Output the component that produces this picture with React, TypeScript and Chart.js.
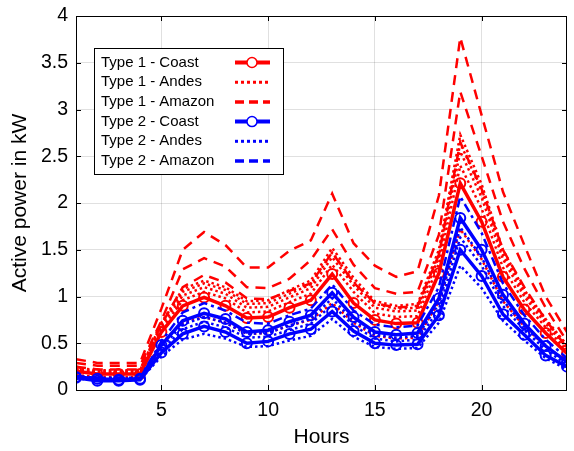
import React, { useEffect, useRef } from "react";
import { Chart, registerables } from "chart.js";

Chart.register(...registerables);

// ---------- data ----------
const hours = [1, 2, 3, 4, 5, 6, 7, 8, 9, 10, 11, 12, 13, 14, 15, 16, 17, 18, 19, 20, 21, 22, 23, 24];

const xTickValues = [5, 10, 15, 20];
const yTickValues = [0, 0.5, 1, 1.5, 2, 2.5, 3, 3.5, 4];

// Type 1 (red)
const t1Coast = [0.20, 0.17, 0.17, 0.17, 0.62, 0.90, 0.99, 0.90, 0.77, 0.78, 0.88, 0.96, 1.24, 0.93, 0.75, 0.71, 0.72, 1.25, 2.21, 1.80, 1.21, 0.86, 0.61, 0.39];
const t1AndesA = [0.24, 0.21, 0.21, 0.21, 0.72, 1.08, 1.17, 1.10, 0.95, 0.96, 1.07, 1.17, 1.52, 1.20, 0.95, 0.90, 0.92, 1.50, 2.73, 2.20, 1.50, 1.07, 0.76, 0.48];
const t1AndesE = [0.23, 0.20, 0.20, 0.20, 0.70, 1.05, 1.14, 1.07, 0.92, 0.93, 1.03, 1.13, 1.47, 1.16, 0.92, 0.87, 0.88, 1.46, 2.64, 2.13, 1.45, 1.04, 0.74, 0.47];
const t1AndesB = [0.22, 0.19, 0.19, 0.19, 0.68, 1.01, 1.10, 1.03, 0.88, 0.89, 0.99, 1.09, 1.42, 1.12, 0.88, 0.84, 0.85, 1.42, 2.55, 2.06, 1.40, 1.00, 0.71, 0.45];
const t1AndesC = [0.21, 0.18, 0.18, 0.18, 0.65, 0.96, 1.05, 0.98, 0.83, 0.84, 0.94, 1.03, 1.34, 1.05, 0.82, 0.78, 0.79, 1.35, 2.40, 1.94, 1.31, 0.94, 0.67, 0.42];
const t1AndesD = [0.16, 0.14, 0.14, 0.14, 0.50, 0.72, 0.78, 0.72, 0.60, 0.61, 0.69, 0.75, 0.93, 0.72, 0.58, 0.55, 0.56, 0.95, 1.72, 1.40, 0.95, 0.68, 0.47, 0.30];
const t1AmazonA = [0.33, 0.29, 0.29, 0.29, 0.87, 1.50, 1.69, 1.55, 1.31, 1.31, 1.49, 1.60, 2.10, 1.57, 1.33, 1.21, 1.27, 2.08, 3.77, 2.94, 2.12, 1.55, 1.00, 0.62];
const t1AmazonB = [0.29, 0.26, 0.26, 0.26, 0.74, 1.29, 1.41, 1.32, 1.10, 1.09, 1.19, 1.39, 1.72, 1.34, 1.09, 1.03, 1.05, 1.66, 3.19, 2.50, 1.80, 1.30, 0.88, 0.52];
const t1AmazonC = [0.25, 0.22, 0.22, 0.22, 0.70, 1.10, 1.23, 1.15, 0.98, 0.97, 1.06, 1.14, 1.47, 1.15, 0.93, 0.88, 0.90, 1.45, 2.65, 2.15, 1.50, 1.10, 0.75, 0.45];

// Type 2 (blue)
const t2CoastA = [0.14, 0.12, 0.11, 0.12, 0.48, 0.74, 0.82, 0.76, 0.62, 0.64, 0.73, 0.80, 1.04, 0.78, 0.62, 0.59, 0.61, 0.98, 1.84, 1.50, 1.02, 0.71, 0.47, 0.30];
const t2CoastB = [0.13, 0.10, 0.10, 0.11, 0.40, 0.60, 0.68, 0.62, 0.50, 0.52, 0.60, 0.65, 0.84, 0.63, 0.50, 0.48, 0.49, 0.80, 1.50, 1.22, 0.81, 0.59, 0.37, 0.25];
const t2AndesA = [0.14, 0.12, 0.12, 0.12, 0.45, 0.70, 0.78, 0.72, 0.60, 0.61, 0.69, 0.76, 0.98, 0.74, 0.59, 0.56, 0.58, 0.92, 1.74, 1.42, 0.96, 0.68, 0.46, 0.29];
const t2AndesB = [0.13, 0.12, 0.12, 0.12, 0.42, 0.65, 0.73, 0.67, 0.56, 0.57, 0.64, 0.71, 0.91, 0.69, 0.55, 0.52, 0.54, 0.86, 1.63, 1.33, 0.90, 0.64, 0.43, 0.27];
const t2AndesC = [0.12, 0.11, 0.11, 0.11, 0.36, 0.54, 0.60, 0.55, 0.46, 0.47, 0.53, 0.58, 0.76, 0.57, 0.46, 0.44, 0.45, 0.72, 1.33, 1.09, 0.74, 0.53, 0.34, 0.22];
const t2Amazon = [0.15, 0.13, 0.13, 0.13, 0.52, 0.83, 0.93, 0.85, 0.72, 0.71, 0.80, 0.87, 1.13, 0.85, 0.70, 0.67, 0.69, 1.10, 2.07, 1.68, 1.14, 0.80, 0.54, 0.34];

const legendLabels = [
  "Type 1 - Coast",
  "Type 1 - Andes",
  "Type 1 - Amazon",
  "Type 2 - Coast",
  "Type 2 - Andes",
  "Type 2 - Amazon",
];

// ---------- styles ----------
const RED = "#ff0000";
const BLUE = "#0000ff";
const FONT = "'Liberation Sans', Arial, Helvetica, sans-serif";

type Style = "solid" | "dotted" | "dashed" | "dashdot";

const styleProps: Record<Style, any> = {
  solid: { borderWidth: 3.5, borderDash: [], pointRadius: 5, pointBorderWidth: 2 },
  dotted: { borderWidth: 2.5, borderDash: [2.5, 3], pointRadius: 0 },
  dashed: { borderWidth: 2.5, borderDash: [10, 7], pointRadius: 0 },
  dashdot: { borderWidth: 2.5, borderDash: [9, 4, 3, 4], pointRadius: 0 },
};

const legendStyles: { color: string; style: Style }[] = [
  { color: RED, style: "solid" },
  { color: RED, style: "dotted" },
  { color: RED, style: "dashed" },
  { color: BLUE, style: "solid" },
  { color: BLUE, style: "dotted" },
  { color: BLUE, style: "dashed" },
];

function makeDataset(label: string, values: number[], color: string, style: Style, order: number) {
  return {
    label,
    data: hours.map((h, i) => ({ x: h, y: values[i] })),
    borderColor: color,
    backgroundColor: color,
    pointBorderColor: color,
    pointBackgroundColor: "rgba(0,0,0,0)",
    pointStyle: "circle",
    pointHoverRadius: 0,
    fill: false,
    tension: 0,
    borderCapStyle: "butt",
    borderJoinStyle: "miter",
    order,
    ...styleProps[style],
  };
}

const matlabPlugin = {
  id: "matlabBox",
  afterDraw(chart: any) {
    const { ctx, chartArea } = chart;
    const { left, right, top, bottom } = chartArea;
    const xs = chart.scales.x;
    const ys = chart.scales.y;
    ctx.save();
    // box
    ctx.strokeStyle = "#000";
    ctx.lineWidth = 1;
    ctx.setLineDash([]);
    ctx.strokeRect(Math.round(left) + 0.5, Math.round(top) + 0.5, Math.round(right - left) - 1, Math.round(bottom - top));
    // inward ticks
    ctx.beginPath();
    const tl = 5;
    xTickValues.forEach((v) => {
      const px = Math.round(xs.getPixelForValue(v)) + 0.5;
      ctx.moveTo(px, bottom);
      ctx.lineTo(px, bottom - tl);
      ctx.moveTo(px, top);
      ctx.lineTo(px, top + tl);
    });
    yTickValues.forEach((v) => {
      const py = Math.round(ys.getPixelForValue(v)) + 0.5;
      ctx.moveTo(left, py);
      ctx.lineTo(left + tl, py);
      ctx.moveTo(right, py);
      ctx.lineTo(right - tl, py);
    });
    ctx.stroke();

    // legend box
    const bx = 94, by = 48, bw = 189, bh = 126;
    ctx.fillStyle = "#fff";
    ctx.fillRect(bx, by, bw, bh);
    ctx.strokeStyle = "#000";
    ctx.lineWidth = 1;
    ctx.strokeRect(bx + 0.5, by + 0.5, bw, bh);
    ctx.font = `15px ${FONT}`;
    ctx.textBaseline = "middle";
    ctx.textAlign = "left";
    legendLabels.forEach((lab, i) => {
      const cy = 62.5 + i * 19.7;
      ctx.fillStyle = "#000";
      ctx.fillText(lab, 101, cy);
      const st = legendStyles[i];
      ctx.strokeStyle = st.color;
      ctx.lineCap = "butt";
      if (st.style === "solid") {
        ctx.lineWidth = 4;
        ctx.setLineDash([]);
      } else if (st.style === "dotted") {
        ctx.lineWidth = 3;
        ctx.setLineDash([3, 3]);
      } else {
        ctx.lineWidth = 3.5;
        ctx.setLineDash([9, 5]);
      }
      ctx.beginPath();
      ctx.moveTo(235, cy);
      ctx.lineTo(270, cy);
      ctx.stroke();
      if (st.style === "solid") {
        ctx.setLineDash([]);
        ctx.lineWidth = 1.5;
        ctx.fillStyle = "#fff";
        ctx.beginPath();
        ctx.arc(252, cy, 5, 0, Math.PI * 2);
        ctx.fill();
        ctx.stroke();
      }
    });
    ctx.restore();
  },
};

export default function App() {
  const canvasRef = useRef<HTMLCanvasElement | null>(null);

  useEffect(() => {
    document.body.style.margin = "0";
    const canvas = canvasRef.current;
    if (!canvas) return;
    const datasets = [
      makeDataset("Type 2 - Coast", t2CoastA, BLUE, "solid", 1),
      makeDataset("Type 2 - Coast b", t2CoastB, BLUE, "solid", 1),
      makeDataset("Type 2 - Amazon", t2Amazon, BLUE, "dashdot", 2),
      makeDataset("Type 2 - Andes", t2AndesA, BLUE, "dotted", 3),
      makeDataset("Type 2 - Andes b", t2AndesB, BLUE, "dotted", 3),
      makeDataset("Type 2 - Andes c", t2AndesC, BLUE, "dotted", 3),
      makeDataset("Type 1 - Coast", t1Coast, RED, "solid", 4),
      makeDataset("Type 1 - Andes", t1AndesA, RED, "dotted", 5),
      makeDataset("Type 1 - Andes e", t1AndesE, RED, "dotted", 5),
      makeDataset("Type 1 - Andes b", t1AndesB, RED, "dotted", 5),
      makeDataset("Type 1 - Andes c", t1AndesC, RED, "dotted", 5),
      makeDataset("Type 1 - Andes d", t1AndesD, RED, "dotted", 5),
      makeDataset("Type 1 - Amazon", t1AmazonA, RED, "dashed", 6),
      makeDataset("Type 1 - Amazon b", t1AmazonB, RED, "dashed", 6),
      makeDataset("Type 1 - Amazon c", t1AmazonC, RED, "dashed", 6),
    ];

    const chart = new Chart(canvas, {
      type: "line",
      data: { datasets: datasets as any },
      options: {
        responsive: false,
        animation: false,
        events: [],
        layout: { padding: { top: 16, right: 1, left: 0, bottom: 0 } },
        plugins: {
          legend: { display: false },
          tooltip: { enabled: false },
          title: { display: false },
        },
        scales: {
          x: {
            type: "linear",
            min: 1,
            max: 24,
            afterBuildTicks: (scale: any) => {
              scale.ticks = xTickValues.map((v) => ({ value: v }));
            },
            afterFit: (scale: any) => {
              scale.height = 61;
              scale.paddingLeft = 0;
              scale.paddingRight = 0;
            },
            grid: { color: "rgba(0,0,0,0.12)", lineWidth: 1, drawTicks: false },
            border: { display: false },
            ticks: {
              padding: 9,
              color: "#000",
              font: { family: FONT, size: 19.5 },
              maxRotation: 0,
              autoSkip: false,
              callback: (v: any) => String(v),
            },
            title: {
              display: true,
              text: "Hours",
              color: "#000",
              font: { family: FONT, size: 21 },
              padding: { top: 0, bottom: 1 },
            },
          },
          y: {
            type: "linear",
            min: 0,
            max: 4,
            afterBuildTicks: (scale: any) => {
              scale.ticks = yTickValues.map((v) => ({ value: v }));
            },
            afterFit: (scale: any) => {
              scale.width = 76;
              scale.paddingTop = 0;
              scale.paddingBottom = 0;
            },
            grid: { color: "rgba(0,0,0,0.12)", lineWidth: 1, drawTicks: false },
            border: { display: false },
            ticks: {
              padding: 8,
              color: "#000",
              font: { family: FONT, size: 19.5 },
              autoSkip: false,
              callback: (v: any) => String(v),
            },
            title: {
              display: true,
              text: "Active power in kW",
              color: "#000",
              font: { family: FONT, size: 21 },
              padding: { top: 8, bottom: 0 },
            },
          },
        },
      },
      plugins: [matlabPlugin],
    });
    return () => chart.destroy();
  }, []);

  return (
    <div style={{ width: 574, height: 451 }}>
      <canvas ref={canvasRef} width={574} height={451} style={{ display: "block" }} />
    </div>
  );
}
